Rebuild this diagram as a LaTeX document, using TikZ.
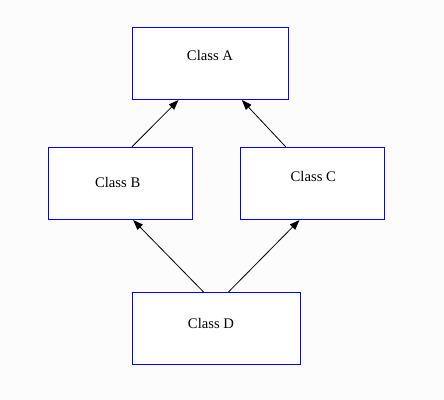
\documentclass[tikz,border=0pt]{standalone}
\usepackage{fontspec}
\setmainfont{Liberation Serif}
\usetikzlibrary{arrows.meta}

\definecolor{bggray}{RGB}{252,252,252}
\definecolor{boxblue}{RGB}{0,0,255}

\tikzset{every picture/.style={line width=0.75pt}}
\tikzset{
  classbox/.style={draw=boxblue, fill=white, line width=0.8pt, inner sep=0pt, minimum height=54pt},
  lbl/.style={inner sep=0.75pt, font=\fontsize{11}{13}\selectfont},
  inherit/.style={draw=black, line width=0.6pt, -{Triangle[length=7.5pt,width=5.5pt]}}
}

\begin{document}
\begin{tikzpicture}[x=0.75pt,y=0.75pt,yscale=-1,xscale=1]
%set diagram size: 444 x 400
\path[fill=bggray, use as bounding box] (0,0) rectangle (444,400);

%Boxes
\node[classbox, minimum width=117pt] (A) at (210.5,63.5) {};
\node[classbox, minimum width=108pt] (B) at (120.5,183.5) {};
\node[classbox, minimum width=108pt] (C) at (312.5,183.5) {};
\node[classbox, minimum width=126pt] (D) at (216.5,328.5) {};

% Text Node
\node[lbl] (tA) at (210,55) {Class A};
% Text Node
\node[lbl] (tB) at (117.7,182) {Class B};
% Text Node
\node[lbl] (tC) at (313.3,176.5) {Class C};
% Text Node
\node[lbl] (tD) at (211,323.5) {Class D};

%Arrows
\draw[inherit] ([xshift=8.5pt]B.north) -- ([xshift=-24pt]A.south);
\draw[inherit] ([xshift=-20pt]C.north) -- ([xshift=23.5pt]A.south);
\draw[inherit] ([xshift=-9.75pt]D.north) -- ([xshift=9.5pt]B.south);
\draw[inherit] ([xshift=9pt]D.north) -- ([xshift=-9.75pt]C.south);

\end{tikzpicture}
\end{document}
